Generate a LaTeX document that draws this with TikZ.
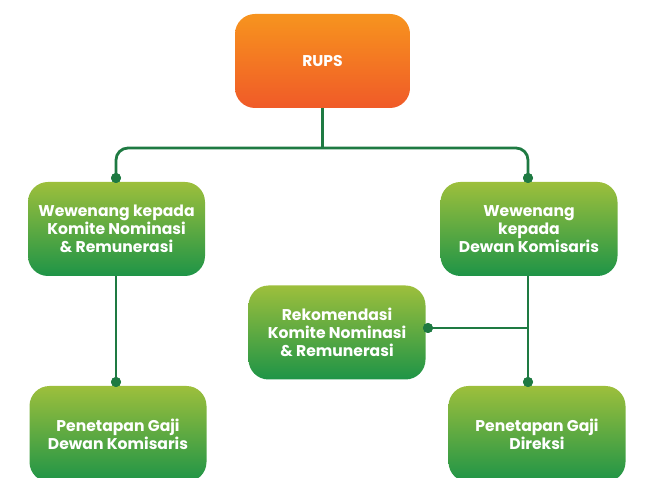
\documentclass[tikz,border=0pt]{standalone}
\usepackage{fontspec}
\setmainfont{Poppins}
\begin{document}
\begin{tikzpicture}[x=1pt,y=-1pt,
  box/.style={rounded corners=20pt, minimum width=177pt, minimum height=94pt, align=center,
    text=white, font=\fontsize{15.6}{18}\selectfont\bfseries, inner sep=0pt},
  gbox/.style={box, top color=gtop, bottom color=gbot},
  obox/.style={box, top color=otop, bottom color=obot},
  conn/.style={draw=lcol, line width=2.8pt},
  dot/.style={circle, fill=lcol, minimum size=10pt, inner sep=0pt}]
\definecolor{gtop}{HTML}{9DBF3C}
\definecolor{gbot}{HTML}{1E9447}
\definecolor{otop}{HTML}{F7941E}
\definecolor{obot}{HTML}{F05A28}
\definecolor{lcol}{HTML}{1E7A42}
\useasboundingbox (0,0) rectangle (662,478);
\clip (0,0) rectangle (662,478);
\node[obox, minimum width=175pt] (rups) at (322.5,61) {RUPS};
\node[gbox] (l1) at (116.5,229) {Wewenang kepada\\Komite Nominasi\\\& Remunerasi};
\node[gbox] (r1) at (529,229) {Wewenang\\kepada\\Dewan Komisaris};
\node[gbox] (mid) at (337,332.5) {Rekomendasi\\Komite Nominasi\\\& Remunerasi};
\node[gbox, minimum height=96pt] (l2) at (118,434) {Penetapan Gaji\\Dewan Komisaris};
\node[gbox, minimum height=96pt] (r2) at (537,434) {Penetapan Gaji\\Direksi};
\coordinate (j) at (322.5,148);
\node[dot] (dl1) at (116,178) {};
\node[dot] (dr1) at (528,178) {};
\node[dot] (dm) at (428,328) {};
\node[dot] (dl2) at (116,382) {};
\node[dot] (dr2) at (528,382) {};
\coordinate (jm) at (528,328);
\draw[conn] (rups.south) -- (j);
\draw[conn, rounded corners=12pt] (dl1.center) -- (dl1.center |- j) -- (dr1.center |- j) -- (dr1.center);
\draw[conn] (dl1.center) -- (l1.north -| dl1);
\draw[conn] (dr1.center) -- (r1.north -| dr1);
\draw[conn] (l1.south -| dl2) -- (dl2.center);
\draw[conn] (r1.south -| dr2) -- (dr2.center) -- (r2.north -| dr2);
\draw[conn] (dl2.center) -- (l2.north -| dl2);
\draw[conn] (dm.center) -- (jm);
\node[dot] at (dl1) {};
\node[dot] at (dr1) {};
\node[dot] at (dm) {};
\node[dot] at (dl2) {};
\node[dot] at (dr2) {};
\end{tikzpicture}
\end{document}
